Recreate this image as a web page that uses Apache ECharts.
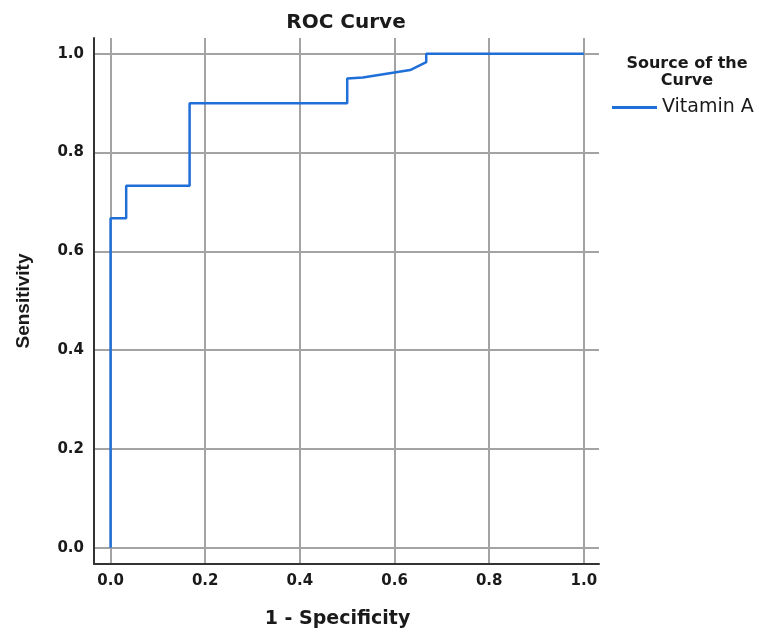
<!DOCTYPE html>
<html>
<head>
<meta charset="utf-8">
<script src="https://cdn.jsdelivr.net/npm/echarts@6/dist/echarts.min.js"></script>
<style>html,body{margin:0;padding:0;background:#fff;}#c{width:766px;height:634px;}</style>
</head>
<body>
<div id="c"></div>
<script>
const fpr = [0, 0, 0.033, 0.033, 0.167, 0.167, 0.5, 0.5, 0.533, 0.633, 0.667, 0.667, 1];
const tpr = [0, 0.667, 0.667, 0.733, 0.733, 0.9, 0.9, 0.95, 0.952, 0.967, 0.983, 1, 1];
const tickValues = [0, 0.2, 0.4, 0.6, 0.8, 1.0];
const seriesName = 'Vitamin A';

const chart = echarts.init(document.getElementById('c'), null, {renderer: 'canvas'});
const lineColor = '#1f6fd8';
const textColor = '#1a1a1a';
const fmt = v => Number(v).toFixed(1);

chart.setOption({
  backgroundColor: '#fff',
  animation: false,
  title: [
    {text: 'ROC Curve', left: 346, top: 13, textAlign: 'center', padding: 0,
     textStyle: {fontFamily: 'DejaVu Sans', fontWeight: 'bold', fontSize: 20, lineHeight: 20, color: textColor}},
    {text: 'Source of the\nCurve', left: 687, top: 55, textAlign: 'center', padding: 0,
     textStyle: {fontFamily: 'DejaVu Sans', fontWeight: 'bold', fontSize: 16, lineHeight: 17, color: textColor}}
  ],
  legend: {
    data: [seriesName], left: 612, top: 98, padding: 0, icon: 'rect',
    itemWidth: 45, itemHeight: 3, itemGap: 5,
    textStyle: {fontFamily: 'DejaVu Sans', fontSize: 19, color: textColor, padding: [0,0,0,0]}
  },
  grid: {left: 94, right: 167, top: 38, bottom: 64, containLabel: false},
  xAxis: {
    type: 'value', min: -0.035, max: 1.032,
    name: '1 - Specificity', nameLocation: 'middle', nameGap: 46,
    nameTextStyle: {fontFamily: 'DejaVu Sans', fontWeight: 'bold', fontSize: 19, color: textColor, padding: [0, 18, 0, 0]},
    axisLine: {show: true, onZero: false, lineStyle: {color: '#333', width: 2}},
    axisTick: {show: false, customValues: tickValues},
    axisLabel: {customValues: tickValues, formatter: fmt, margin: 10,
      fontFamily: 'DejaVu Sans', fontWeight: 'bold', fontSize: 15, color: textColor},
    splitLine: {show: true, lineStyle: {color: '#a3a3a3', width: 2}}
  },
  yAxis: {
    type: 'value', min: -0.033, max: 1.032,
    name: 'Sensitivity', nameLocation: 'middle', nameGap: 61, nameRotate: 90,
    nameTextStyle: {fontFamily: 'Liberation Sans', fontWeight: 'bold', fontSize: 19, color: textColor},
    axisLine: {show: true, onZero: false, lineStyle: {color: '#333', width: 2}},
    axisTick: {show: false, customValues: tickValues},
    axisLabel: {customValues: tickValues, formatter: fmt, margin: 10,
      fontFamily: 'DejaVu Sans', fontWeight: 'bold', fontSize: 15, color: textColor},
    splitLine: {show: true, lineStyle: {color: '#a3a3a3', width: 2}}
  },
  series: [{
    name: seriesName, type: 'line', symbol: 'none', showSymbol: false,
    data: fpr.map((x, i) => [x, tpr[i]]),
    lineStyle: {color: lineColor, width: 2.5},
    itemStyle: {color: lineColor}
  }]
});
</script>
</body>
</html>
